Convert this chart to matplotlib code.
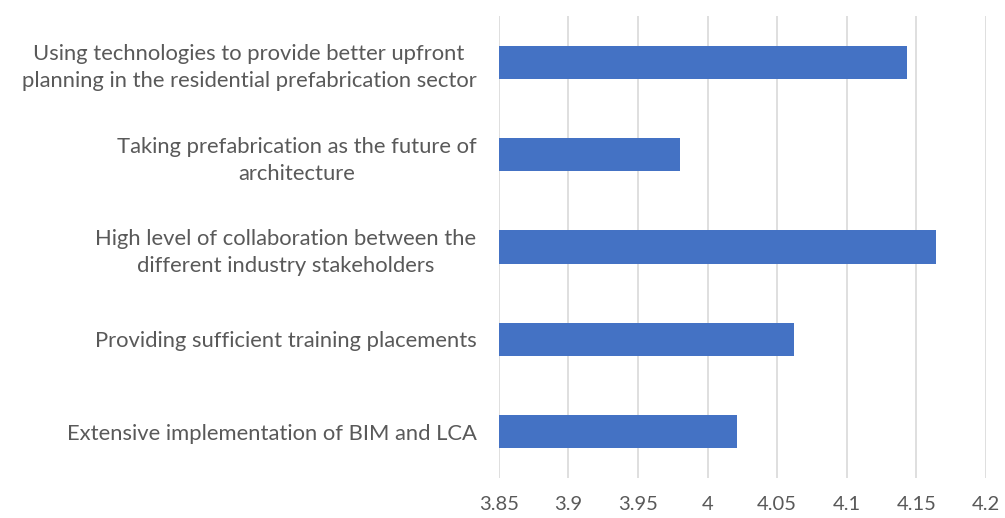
import matplotlib
matplotlib.use("Agg")
import matplotlib.pyplot as plt

# Survey items (top to bottom as shown) and their mean scores
categories = [
    "Using technologies to provide better upfront\nplanning in the residential prefabrication sector",
    "Taking prefabrication as the future of\narchitecture",
    "High level of collaboration between the\ndifferent industry stakeholders",
    "Providing sufficient training placements",
    "Extensive implementation of BIM and LCA",
]
scores = [4.143, 3.980, 4.164, 4.062, 4.021]
x_ticks = [3.85, 3.9, 3.95, 4.0, 4.05, 4.1, 4.15, 4.2]
x_tick_labels = ["3.85", "3.9", "3.95", "4", "4.05", "4.1", "4.15", "4.2"]

plt.rcParams["font.family"] = ["Lato", "DejaVu Sans"]

fig = plt.figure(figsize=(10.05, 5.18), dpi=100)
ax = fig.add_axes([0.4962, 0.0772, 0.4849, 0.8919])

ypos = list(range(len(categories)))[::-1]
ax.barh(ypos, [s - x_ticks[0] for s in scores], left=x_ticks[0], height=0.36,
        color="#4472C4", zorder=3)

ax.set_xlim(x_ticks[0], x_ticks[-1])
ax.set_ylim(-0.5, len(categories) - 0.5)
ax.set_xticks(x_ticks)
ax.set_xticklabels(x_tick_labels)
ax.set_yticks(ypos)
ax.set_yticklabels(categories, multialignment="center", linespacing=1.45)

ax.grid(axis="x", color="#d9d9d9", linewidth=1.2, zorder=0)
for s in ax.spines.values():
    s.set_visible(False)
ax.tick_params(axis="both", length=0, colors="#595959")
ax.tick_params(axis="x", pad=13, labelsize=14.5)
ax.tick_params(axis="y", pad=16, labelsize=15.8)

fig.savefig("out.png", dpi=100)
